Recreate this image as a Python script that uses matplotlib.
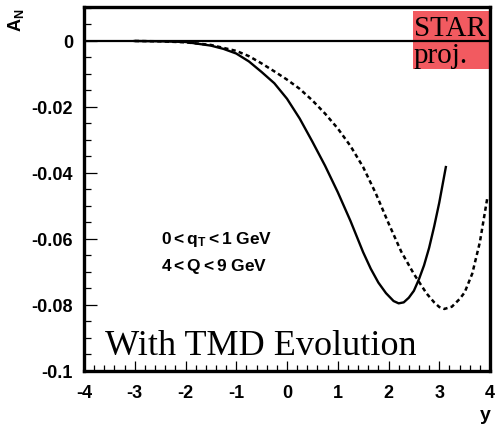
import matplotlib
matplotlib.use("Agg")
import matplotlib.pyplot as plt
from matplotlib.patches import Rectangle
from matplotlib.ticker import MultipleLocator, FixedLocator

plt.rcParams['font.family'] = ['Liberation Sans', 'DejaVu Sans']
plt.rcParams['mathtext.fontset'] = 'custom'
plt.rcParams['mathtext.rm'] = 'Liberation Sans'
plt.rcParams['mathtext.bf'] = 'Liberation Sans:bold'
plt.rcParams['mathtext.it'] = 'Liberation Sans:italic'

# Sivers asymmetry A_N vs rapidity y, with TMD evolution
y_solid = [-3.0, -2.5, -2.0, -1.5, -1.25, -1.0, -0.75, -0.5, -0.25, 0.0, 0.25,
           0.5, 0.75, 1.0, 1.25, 1.5, 1.65, 1.8, 1.95, 2.1, 2.2, 2.3, 2.4, 2.5,
           2.6, 2.7, 2.8, 2.9, 3.0, 3.13]
an_solid = [0.0, -0.0001, -0.0003, -0.0014, -0.0024, -0.0038, -0.0062, -0.0094,
            -0.0128, -0.0175, -0.0235, -0.0305, -0.0378, -0.0458, -0.0545,
            -0.0640, -0.0690, -0.0732, -0.0764, -0.0788, -0.0795, -0.0792,
            -0.0778, -0.0757, -0.0722, -0.0680, -0.0627, -0.0562, -0.0490,
            -0.0382]

y_dashed = [-3.0, -2.5, -2.0, -1.5, -1.0, -0.75, -0.5, -0.25, 0.0, 0.25, 0.5,
            0.75, 1.0, 1.25, 1.5, 1.75, 2.0, 2.25, 2.5, 2.75, 2.9, 3.0, 3.1,
            3.25, 3.4, 3.5, 3.65, 3.8, 3.95]
an_dashed = [0.0, -0.0001, -0.0004, -0.0012, -0.0030, -0.0046, -0.0068, -0.0092,
             -0.0117, -0.0145, -0.0180, -0.0220, -0.0265, -0.0318, -0.0382,
             -0.0462, -0.0552, -0.0638, -0.0706, -0.0765, -0.0792, -0.0806,
             -0.0812, -0.0805, -0.0782, -0.0762, -0.0705, -0.0610, -0.0473]

x_ticks = [-4, -3, -2, -1, 0, 1, 2, 3, 4]
y_ticks = [-0.1, -0.08, -0.06, -0.04, -0.02, 0.0]
y_tick_labels = ['-0.1', '-0.08', '-0.06', '-0.04', '-0.02', '0']

W, H = 496, 435
fig = plt.figure(figsize=(W / 100, H / 100), dpi=100)
ax = fig.add_axes([84 / W, 1 - 372 / H, (490 - 84) / W, (372 - 8) / H])

ax.set_xlim(-4, 4)
ax.set_ylim(-0.1, 0.0103)

ax.axhline(0.0, color='black', lw=1.6, zorder=3)
ax.plot(y_solid, an_solid, color='black', lw=1.7, zorder=4,
        solid_joinstyle='round')
ax.plot(y_dashed, an_dashed, color='black', lw=1.8, ls=(0, (1.7, 1.3)), zorder=4)

for s in ax.spines.values():
    s.set_linewidth(2.4)

ax.xaxis.set_major_locator(FixedLocator(x_ticks))
ax.xaxis.set_minor_locator(MultipleLocator(0.2))
ax.yaxis.set_major_locator(FixedLocator(y_ticks))
ax.yaxis.set_minor_locator(MultipleLocator(0.005))
ax.set_yticklabels(y_tick_labels)
ax.set_xticklabels([str(v) for v in x_ticks])

ax.tick_params(which='both', direction='in', top=False, right=False)
ax.tick_params(which='major', axis='y', length=9, width=0.9, pad=8, labelsize=13)
ax.tick_params(which='minor', axis='y', length=5, width=0.9)
ax.tick_params(which='major', axis='x', length=7, width=0.9, pad=9, labelsize=13)
ax.tick_params(which='minor', axis='x', length=4, width=0.9)
for lab in ax.get_xticklabels() + ax.get_yticklabels():
    lab.set_fontweight('bold')

fig.text(16 / W, 1 - 20 / H, r'$\mathbf{A}_{\mathbf{N}}$', rotation=90,
         ha='center', va='center', fontsize=13)
fig.text(485 / W, 1 - 416 / H, 'y', ha='center', va='center', fontsize=14,
         fontweight='bold')

ax.text(161 / W, 1 - 240 / H, r'$\mathbf{0{<}q}_{\mathbf{T}}\mathbf{{<}1\ GeV}$',
        transform=fig.transFigure, ha='left', va='center', fontsize=12.5)
ax.text(161 / W, 1 - 267 / H, r'$\mathbf{4{<}Q{<}9\ GeV}$',
        transform=fig.transFigure, ha='left', va='center', fontsize=12.5)

ax.text(105 / W, 1 - 355 / H, 'With TMD Evolution', transform=fig.transFigure,
        ha='left', va='baseline', fontsize=26, family='Liberation Serif')

fig.patches.append(Rectangle((413 / W, 1 - 70 / H), (491 - 413) / W, (70 - 12) / H,
                             transform=fig.transFigure, facecolor='#f25a60',
                             edgecolor='none', zorder=1))
fig.text(414 / W, 1 - 36 / H, 'STAR', ha='left', va='baseline', fontsize=21,
         family='Liberation Serif')
fig.text(414 / W, 1 - 63 / H, 'proj.', ha='left', va='baseline', fontsize=21,
         family='Liberation Serif')

ax.set_zorder(2)
ax.patch.set_alpha(0)

fig.savefig('out.png', dpi=100)
